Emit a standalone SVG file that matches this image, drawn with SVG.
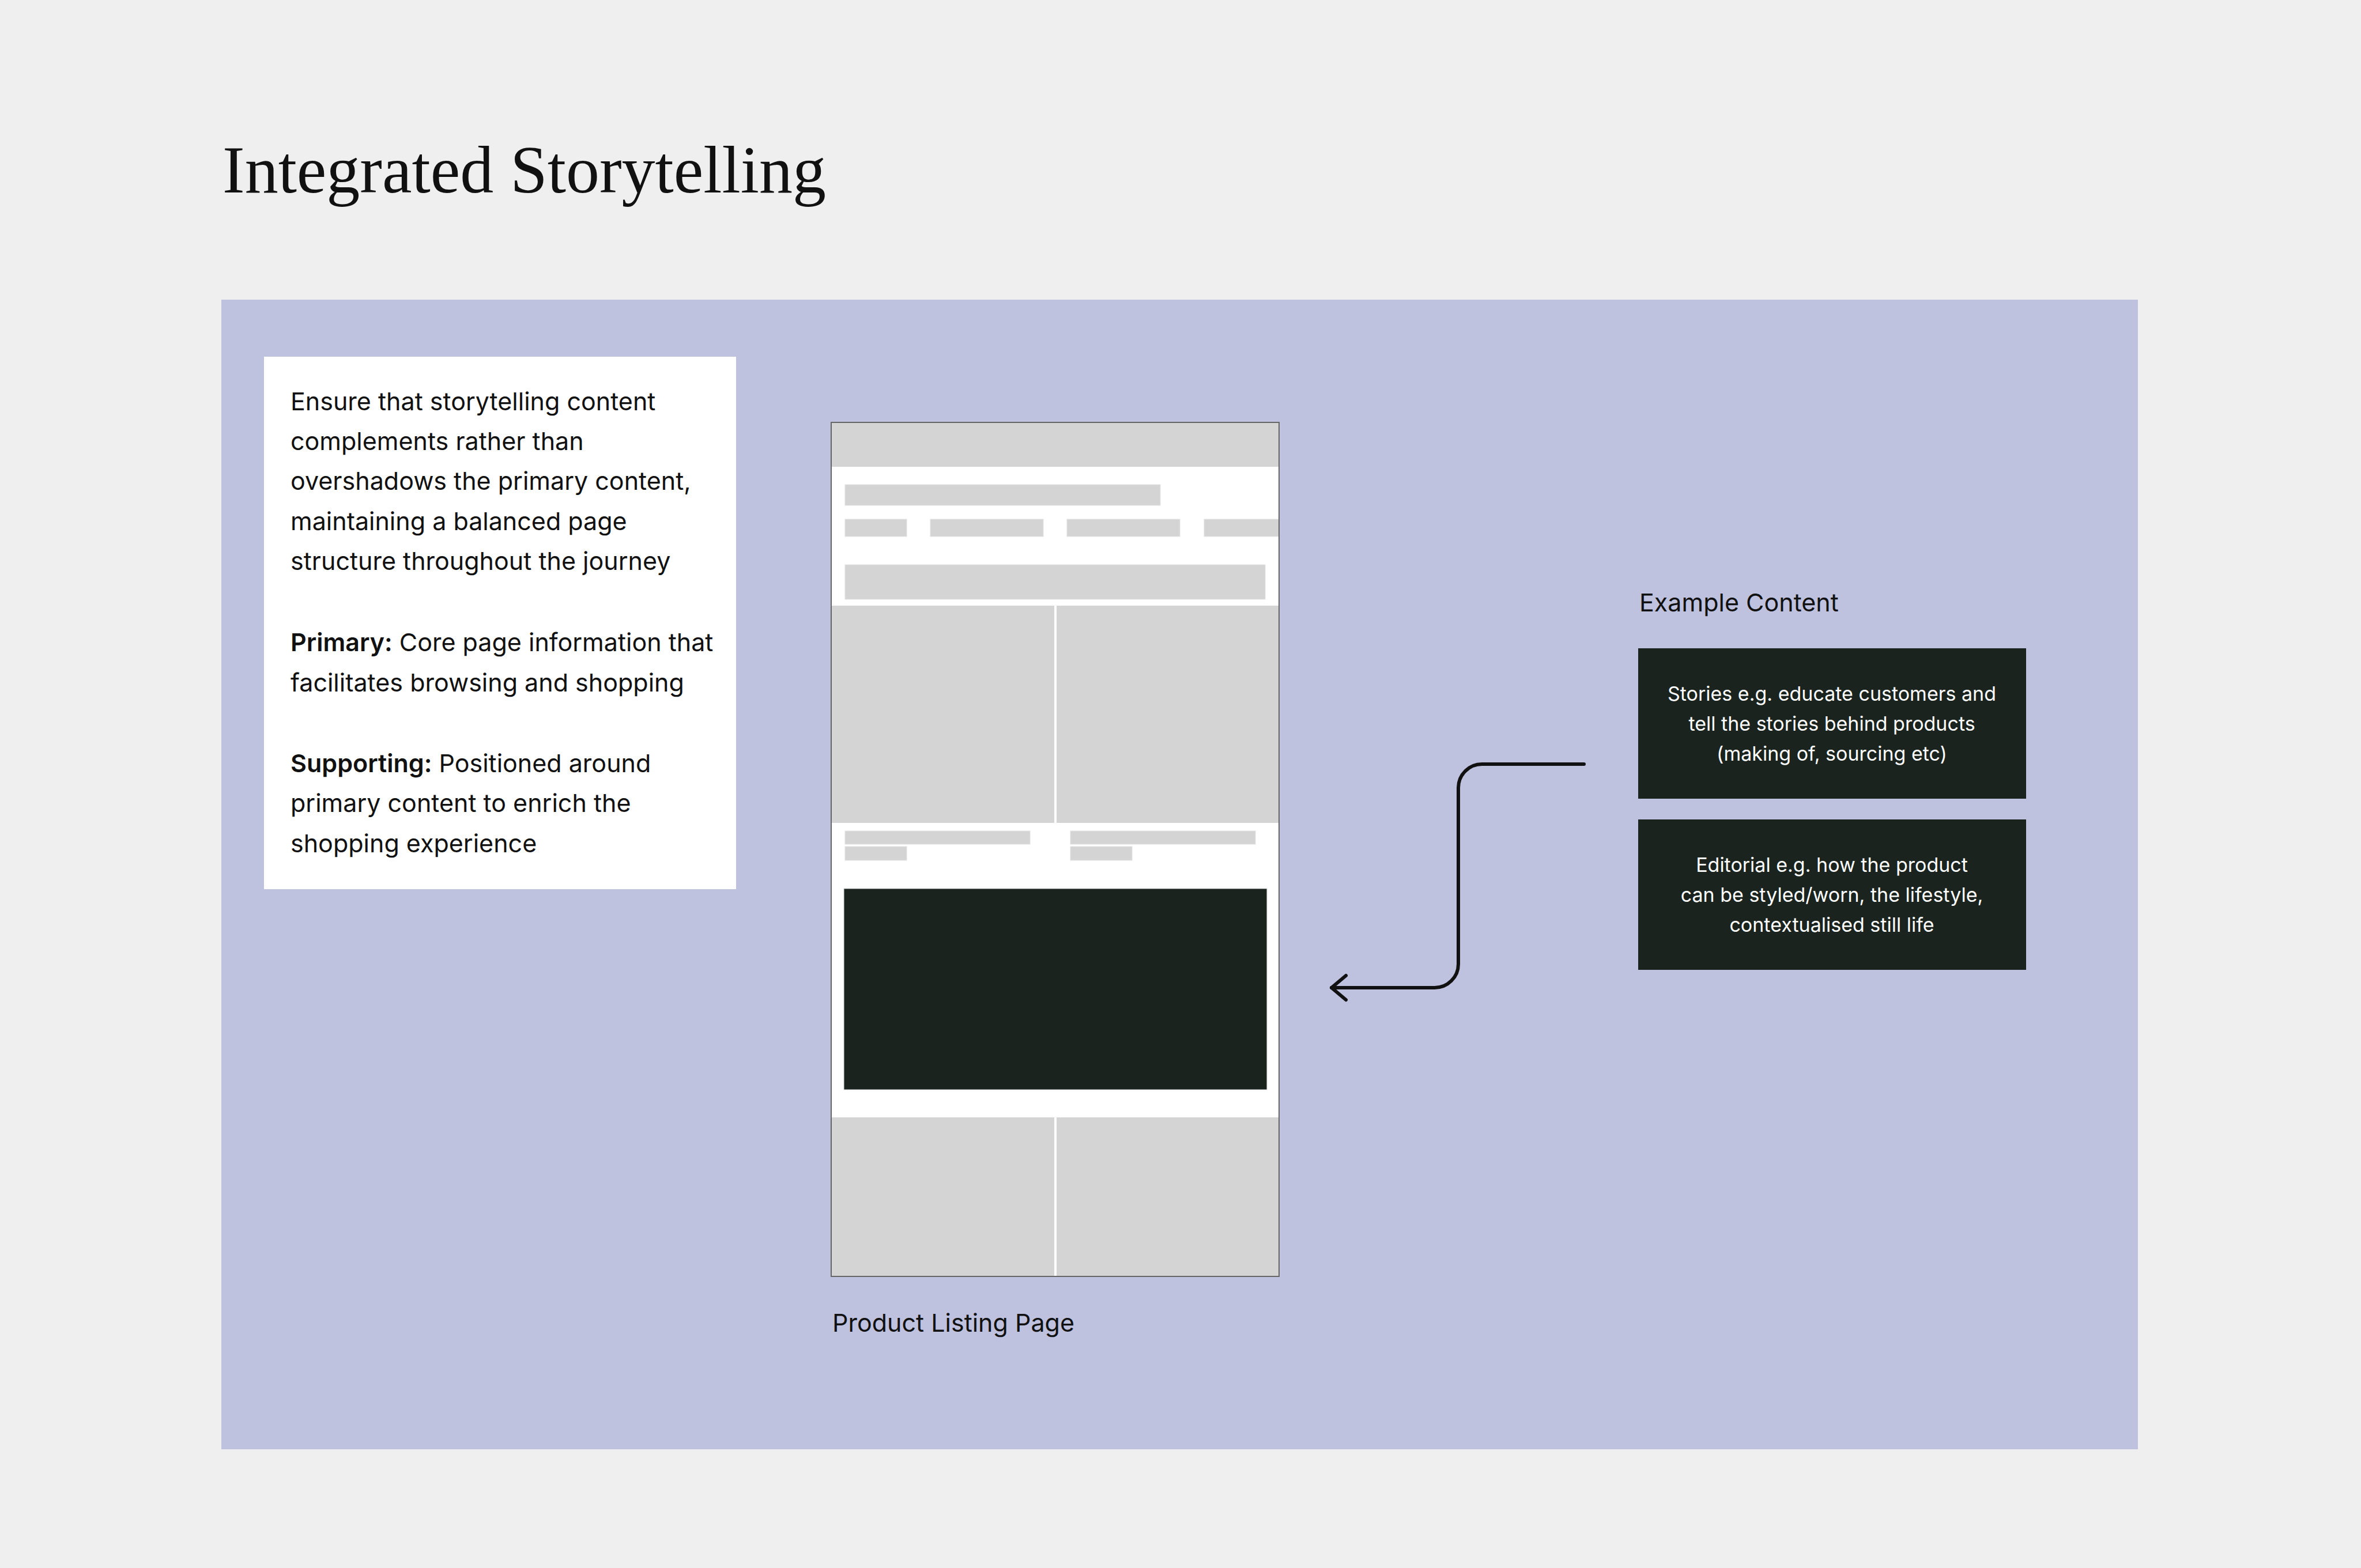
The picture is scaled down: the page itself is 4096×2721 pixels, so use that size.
<svg xmlns="http://www.w3.org/2000/svg" width="4096" height="2721" viewBox="0 0 4096 2721">
<style>
.t{font-family:Inter,"Liberation Sans",sans-serif;font-size:43px;fill:#111}
.b{font-weight:600}
.w{font-family:Inter,"Liberation Sans",sans-serif;font-size:34px;fill:#fff;text-anchor:middle}
.g{fill:#d4d4d4;stroke:#e2e2e2;stroke-width:1}
.tile{fill:#d4d4d4}
</style>
<defs>
<marker id="arr" viewBox="0 0 34 50" refX="29" refY="25" markerWidth="34" markerHeight="50" markerUnits="userSpaceOnUse" orient="auto">
<path d="M 4 4 L 29 25 L 4 46" fill="none" stroke="#111" stroke-width="6" stroke-linecap="round" stroke-linejoin="round"/>
</marker>
</defs>
<rect width="4096" height="2721" fill="#efefef"/>
<text x="386" y="334" font-family="'Liberation Serif',serif" font-size="116" fill="#111">Integrated Storytelling</text>
<rect id="panel" x="384" y="520" width="3325" height="1995" fill="#bec2df"/>

<g id="note">
<rect x="458" y="619" width="819" height="924" fill="#fff"/>
<text class="t" x="504" y="712">Ensure that storytelling content</text>
<text class="t" x="504" y="781">complements rather than</text>
<text class="t" x="504" y="850">overshadows the primary content,</text>
<text class="t" x="504" y="920">maintaining a balanced page</text>
<text class="t" x="504" y="989">structure throughout the journey</text>
<text class="t" x="504" y="1130"><tspan class="b">Primary:</tspan> Core page information that</text>
<text class="t" x="504" y="1200">facilitates browsing and shopping</text>
<text class="t" x="504" y="1340"><tspan class="b">Supporting:</tspan> Positioned around</text>
<text class="t" x="504" y="1409">primary content to enrich the</text>
<text class="t" x="504" y="1479">shopping experience</text>
</g>

<g id="plp">
<rect x="1442" y="733" width="777" height="1482" fill="#fff"/>
<rect class="tile" x="1442" y="733" width="777" height="77"/>
<rect class="g" x="1466" y="841" width="547" height="36"/>
<rect class="g" x="1466" y="901" width="107" height="30"/>
<rect class="g" x="1614" y="901" width="196" height="30"/>
<rect class="g" x="1851" y="901" width="196" height="30"/>
<rect class="g" x="2089" y="901" width="130" height="30"/>
<rect class="g" x="1466" y="980" width="729" height="60"/>
<rect class="tile" x="1442" y="1051" width="387" height="377"/>
<rect class="tile" x="1833" y="1051" width="386" height="377"/>
<rect class="g" x="1466" y="1442" width="321" height="23"/>
<rect class="g" x="1857" y="1442" width="321" height="23"/>
<rect class="g" x="1466" y="1469" width="107" height="24"/>
<rect class="g" x="1857" y="1469" width="107" height="24"/>
<rect x="1464" y="1542" width="734" height="349" fill="#1b231f" stroke="#d8d8d8" stroke-width="1"/>
<rect class="tile" x="1442" y="1939" width="387" height="276"/>
<rect class="tile" x="1833" y="1939" width="386" height="276"/>
<rect x="1442" y="733" width="777" height="1482" fill="none" stroke="#666" stroke-width="2"/>
<text class="t" x="1444" y="2311">Product Listing Page</text>
</g>

<g id="examples">
<text class="t" x="2844" y="1061">Example Content</text>
<g id="stories">
<rect x="2842" y="1125" width="673" height="261" fill="#1b231f"/>
<text class="w" x="3178" y="1216">Stories e.g. educate customers and</text>
<text class="w" x="3178" y="1268">tell the stories behind products</text>
<text class="w" x="3178" y="1320">(making of, sourcing etc)</text>
</g>
<g id="editorial">
<rect x="2842" y="1422" width="673" height="261" fill="#1b231f"/>
<text class="w" x="3178" y="1513">Editorial e.g. how the product</text>
<text class="w" x="3178" y="1565">can be styled/worn, the lifestyle,</text>
<text class="w" x="3178" y="1617">contextualised still life</text>
</g>
</g>

<g id="connectors">
<path d="M 2748 1326 L 2571 1326 A 41 41 0 0 0 2530 1367 L 2530 1673 A 41 41 0 0 1 2489 1714 L 2310 1714" fill="none" stroke="#111" stroke-width="6" stroke-linecap="round" marker-end="url(#arr)"/>
</g>
</svg>
